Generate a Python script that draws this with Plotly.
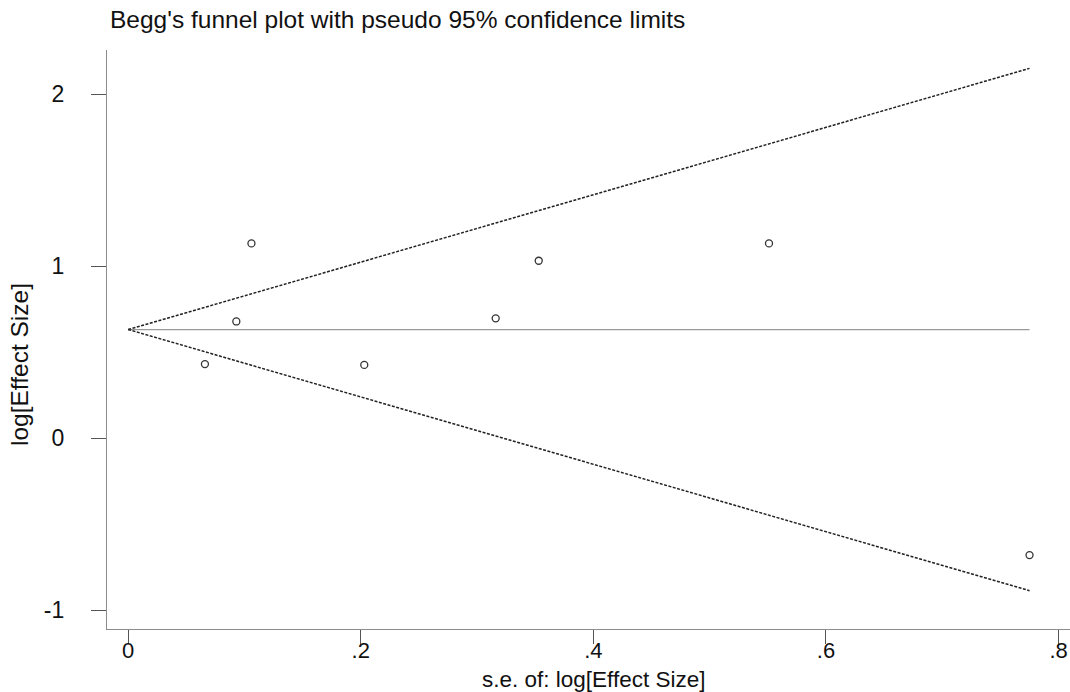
import plotly.graph_objects as go

# Study-level data
se_values = [0.066, 0.093, 0.106, 0.203, 0.316, 0.353, 0.551, 0.775]
effect_values = [0.431, 0.679, 1.133, 0.426, 0.697, 1.032, 1.133, -0.680]
pooled_effect = 0.632

x_tick_vals = [0, 0.2, 0.4, 0.6, 0.8]
x_tick_text = ["0", ".2", ".4", ".6", ".8"]
y_tick_vals = [-1, 0, 1, 2]
y_tick_text = ["-1", "0", "1", "2"]

FONT = "Liberation Sans, Arial, Helvetica, sans-serif"

se_max = max(se_values)
funnel_x = [0, se_max]
upper_y = [pooled_effect, pooled_effect + 1.96 * se_max]
lower_y = [pooled_effect, pooled_effect - 1.96 * se_max]

fig = go.Figure()

fig.add_trace(go.Scatter(x=funnel_x, y=[pooled_effect, pooled_effect], mode="lines",
                         line=dict(color="#9a9a9a", width=1.3), hoverinfo="skip", showlegend=False))
fig.add_trace(go.Scatter(x=funnel_x, y=upper_y, mode="lines",
                         line=dict(color="#222222", width=1.5, dash="3px,1.5px"), hoverinfo="skip", showlegend=False))
fig.add_trace(go.Scatter(x=funnel_x, y=lower_y, mode="lines",
                         line=dict(color="#222222", width=1.5, dash="3px,1.5px"), hoverinfo="skip", showlegend=False))
fig.add_trace(go.Scatter(x=se_values, y=effect_values, mode="markers",
                         marker=dict(symbol="circle-open", size=7, color="#333333",
                                     line=dict(width=1.3, color="#333333")),
                         showlegend=False))

fig.update_layout(
    width=1070, height=692,
    margin=dict(l=107, r=0, t=50, b=63),
    paper_bgcolor="white", plot_bgcolor="white",
    font=dict(family=FONT, color="#111111"),
    title=dict(text="Begg's funnel plot with pseudo 95% confidence limits",
               x=110 / 1070, xanchor="left", xref="container",
               y=1 - 19 / 692, yanchor="middle", yref="container",
               font=dict(family=FONT, size=24.5, color="#111111")),
    xaxis=dict(range=[-0.0182, 0.8098], tickvals=x_tick_vals, ticktext=x_tick_text,
               showgrid=False, zeroline=False, showline=True, linecolor="#8c8c8c", linewidth=1.3,
               ticks="outside", ticklen=14, tickwidth=1.3, tickcolor="#555555",
               tickfont=dict(family=FONT, size=22, color="#111111"), ticklabelstandoff=-13),
    yaxis=dict(range=[-1.110, 2.258], tickvals=y_tick_vals, ticktext=y_tick_text,
               showgrid=False, zeroline=False, showline=True, linecolor="#8c8c8c", linewidth=1.3,
               ticks="outside", ticklen=15, tickwidth=1.3, tickcolor="#555555",
               tickfont=dict(family=FONT, size=23, color="#111111"), ticklabelstandoff=22),
    annotations=[
        dict(text="s.e. of: log[Effect Size]", xref="paper", yref="paper",
             x=(593 - 107) / (1070 - 107), y=-(679 - 629) / (629 - 50),
             xanchor="center", yanchor="middle", showarrow=False,
             font=dict(family=FONT, size=22.5, color="#111111")),
        dict(text="log[Effect Size]", xref="paper", yref="paper", textangle=-90,
             x=-(107 - 20) / (1070 - 107), y=(629 - 365) / (629 - 50),
             xanchor="center", yanchor="middle", showarrow=False,
             font=dict(family=FONT, size=24.5, color="#111111")),
    ],
)

fig.write_html("out.html")
